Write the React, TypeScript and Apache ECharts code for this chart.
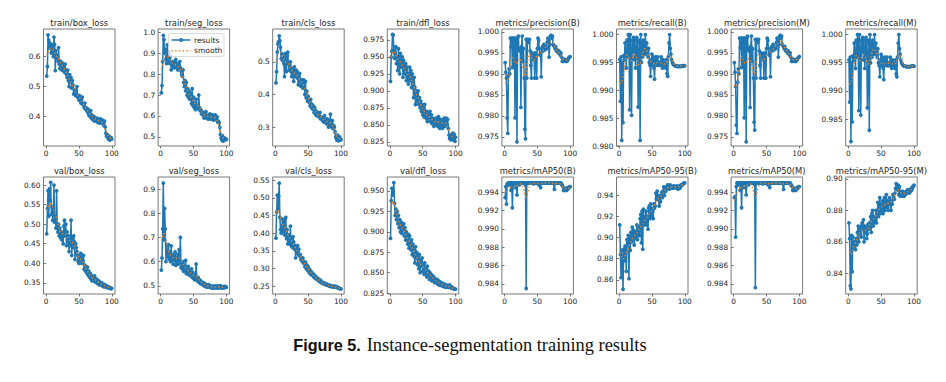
import React, { useEffect, useRef } from 'react';
import * as echarts from 'echarts';

// ---------- data ----------
const epochs: number[] = Array.from({ length: 100 }, (_, i) => i + 1);

const titles = [
  'train/box_loss', 'train/seg_loss', 'train/cls_loss', 'train/dfl_loss',
  'metrics/precision(B)', 'metrics/recall(B)', 'metrics/precision(M)', 'metrics/recall(M)',
  'val/box_loss', 'val/seg_loss', 'val/cls_loss', 'val/dfl_loss',
  'metrics/mAP50(B)', 'metrics/mAP50-95(B)', 'metrics/mAP50(M)', 'metrics/mAP50-95(M)',
];

const trainBoxLoss = [
  0.535, 0.567, 0.672, 0.655, 0.628, 0.645, 0.632, 0.612, 0.640, 0.618,
  0.600, 0.665, 0.640, 0.553, 0.620, 0.595, 0.605, 0.585, 0.630, 0.575,
  0.560, 0.585, 0.575, 0.555, 0.578, 0.568, 0.560, 0.548, 0.575, 0.555,
  0.540, 0.530, 0.555, 0.520, 0.500, 0.540, 0.515, 0.530, 0.495, 0.520,
  0.505, 0.475, 0.490, 0.480, 0.470, 0.478, 0.500, 0.465, 0.470, 0.455,
  0.470, 0.460, 0.445, 0.455, 0.465, 0.440, 0.440, 0.430, 0.445, 0.425,
  0.430, 0.420, 0.415, 0.425, 0.405, 0.410, 0.400, 0.420, 0.395, 0.405,
  0.390, 0.395, 0.400, 0.385, 0.395, 0.390, 0.385, 0.395, 0.380, 0.390,
  0.388, 0.378, 0.392, 0.385, 0.380, 0.388, 0.375, 0.370, 0.385, 0.365,
  0.345, 0.335, 0.340, 0.330, 0.325, 0.335, 0.322, 0.328, 0.330, 0.325,
];
const trainSegLoss = [
  0.710, 0.745, 0.860, 0.985, 0.965, 0.900, 0.920, 0.870, 0.850, 0.940,
  0.880, 0.860, 0.905, 0.850, 0.890, 0.820, 0.850, 0.835, 0.860, 0.845,
  0.830, 0.855, 0.870, 0.835, 0.850, 0.820, 0.830, 0.840, 0.860, 0.830,
  0.815, 0.800, 0.790, 0.820, 0.760, 0.740, 0.770, 0.720, 0.760, 0.700,
  0.730, 0.690, 0.720, 0.680, 0.710, 0.690, 0.660, 0.730, 0.650, 0.690,
  0.640, 0.660, 0.630, 0.680, 0.640, 0.650, 0.635, 0.700, 0.640, 0.625,
  0.630, 0.610, 0.620, 0.605, 0.615, 0.590, 0.605, 0.600, 0.620, 0.590,
  0.600, 0.585, 0.605, 0.595, 0.610, 0.585, 0.600, 0.590, 0.605, 0.580,
  0.600, 0.595, 0.605, 0.590, 0.580, 0.595, 0.570, 0.575, 0.565, 0.545,
  0.510, 0.495, 0.485, 0.505, 0.480, 0.490, 0.495, 0.485, 0.490, 0.488,
];
const trainClsLoss = [
  0.436, 0.470, 0.530, 0.555, 0.562, 0.580, 0.565, 0.545, 0.510, 0.525,
  0.505, 0.515, 0.495, 0.455, 0.525, 0.500, 0.470, 0.520, 0.530, 0.495,
  0.475, 0.490, 0.500, 0.470, 0.455, 0.480, 0.470, 0.440, 0.485, 0.465,
  0.455, 0.475, 0.470, 0.450, 0.430, 0.455, 0.465, 0.440, 0.425, 0.445,
  0.440, 0.420, 0.445, 0.440, 0.400, 0.440, 0.390, 0.410, 0.380, 0.395,
  0.380, 0.375, 0.365, 0.385, 0.360, 0.370, 0.355, 0.365, 0.345, 0.360,
  0.340, 0.350, 0.335, 0.345, 0.335, 0.340, 0.330, 0.345, 0.325, 0.330,
  0.330, 0.320, 0.325, 0.315, 0.335, 0.320, 0.318, 0.310, 0.325, 0.315,
  0.300, 0.320, 0.310, 0.340, 0.305, 0.300, 0.320, 0.295, 0.305, 0.300,
  0.285, 0.270, 0.265, 0.260, 0.275, 0.258, 0.265, 0.270, 0.260, 0.262,
];
const trainDflLoss = [
  0.914, 0.950, 0.958, 0.983, 0.982, 0.960, 0.948, 0.955, 0.965, 0.940,
  0.950, 0.930, 0.962, 0.945, 0.925, 0.955, 0.945, 0.935, 0.950, 0.920,
  0.945, 0.930, 0.925, 0.940, 0.915, 0.935, 0.920, 0.910, 0.925, 0.935,
  0.915, 0.930, 0.905, 0.925, 0.915, 0.890, 0.920, 0.905, 0.880, 0.900,
  0.895, 0.885, 0.900, 0.880, 0.890, 0.875, 0.885, 0.870, 0.880, 0.865,
  0.875, 0.862, 0.880, 0.868, 0.860, 0.870, 0.855, 0.868, 0.860, 0.862,
  0.870, 0.855, 0.865, 0.852, 0.860, 0.855, 0.848, 0.858, 0.852, 0.860,
  0.850, 0.858, 0.848, 0.862, 0.855, 0.845, 0.858, 0.850, 0.855, 0.845,
  0.858, 0.850, 0.860, 0.848, 0.855, 0.860, 0.850, 0.858, 0.845, 0.835,
  0.830, 0.835, 0.828, 0.836, 0.830, 0.838, 0.828, 0.836, 0.826, 0.832,
];
const precisionB = [
  0.9927, 0.9904, 0.9890, 0.9795, 0.9758, 0.9895, 0.9912, 0.9900, 0.9985, 0.9965,
  0.9985, 0.9915, 0.9985, 0.9920, 0.9985, 0.9795, 0.9985, 0.9980, 0.9738, 0.9985,
  0.9990, 0.9960, 0.9955, 0.9960, 0.9820, 0.9965, 0.9990, 0.9930, 0.9960, 0.9890,
  0.9768, 0.9745, 0.9982, 0.9890, 0.9982, 0.9980, 0.9975, 0.9982, 0.9955, 0.9920,
  0.9890, 0.9950, 0.9935, 0.9945, 0.9940, 0.9890, 0.9950, 0.9945, 0.9890, 0.9960,
  0.9985, 0.9980, 0.9960, 0.9945, 0.9950, 0.9893, 0.9960, 0.9965, 0.9955, 0.9970,
  0.9960, 0.9958, 0.9965, 0.9960, 0.9975, 0.9985, 0.9980, 0.9940, 0.9970, 0.9990,
  0.9992, 0.9985, 0.9990, 0.9970, 0.9968, 0.9965, 0.9960, 0.9965, 0.9955, 0.9958,
  0.9955, 0.9950, 0.9955, 0.9948, 0.9945, 0.9950, 0.9940, 0.9930, 0.9932, 0.9930,
  0.9935, 0.9932, 0.9930, 0.9934, 0.9930, 0.9932, 0.9935, 0.9938, 0.9940, 0.9941,
];
const recallB = [
  0.9955, 0.9880, 0.9960, 0.9810, 0.9950, 0.9842, 0.9962, 0.9955, 0.9985, 0.9965,
  0.9940, 0.9990, 0.9960, 1.0000, 0.9990, 0.9865, 1.0000, 0.9960, 0.9855, 0.9990,
  0.9970, 0.9995, 0.9955, 0.9990, 0.9940, 0.9960, 0.9995, 0.9985, 0.9870, 0.9960,
  0.9990, 0.9810, 1.0000, 0.9950, 0.9985, 0.9960, 0.9990, 0.9975, 0.9965, 1.0000,
  0.9970, 0.9985, 0.9965, 0.9960, 0.9975, 0.9950, 0.9945, 0.9925, 0.9955, 0.9965,
  0.9945, 0.9960, 0.9940, 0.9920, 0.9955, 0.9960, 0.9950, 0.9945, 0.9960, 0.9945,
  0.9950, 0.9945, 0.9948, 0.9960, 0.9945, 0.9940, 0.9955, 0.9950, 0.9945, 0.9948,
  0.9940, 0.9955, 0.9930, 0.9925, 0.9960, 0.9985, 1.0000, 0.9975, 0.9965, 0.9955,
  0.9950, 0.9948, 0.9946, 0.9945, 0.9944, 0.9944, 0.9944, 0.9943, 0.9943, 0.9943,
  0.9943, 0.9943, 0.9943, 0.9943, 0.9943, 0.9944, 0.9944, 0.9944, 0.9944, 0.9944,
];
const precisionM = [
  0.9927, 0.9904, 0.9870, 0.9778, 0.9758, 0.9880, 0.9912, 0.9900, 0.9985, 0.9962,
  0.9985, 0.9915, 0.9985, 0.9920, 0.9985, 0.9795, 0.9985, 0.9980, 0.9738, 0.9985,
  0.9990, 0.9960, 0.9955, 0.9960, 0.9820, 0.9965, 0.9990, 0.9930, 0.9960, 0.9890,
  0.9785, 0.9766, 0.9982, 0.9890, 0.9982, 0.9980, 0.9975, 0.9982, 0.9955, 0.9920,
  0.9890, 0.9950, 0.9935, 0.9945, 0.9940, 0.9890, 0.9950, 0.9945, 0.9890, 0.9960,
  0.9985, 0.9980, 0.9960, 0.9945, 0.9950, 0.9893, 0.9960, 0.9965, 0.9955, 0.9970,
  0.9960, 0.9958, 0.9965, 0.9960, 0.9975, 0.9985, 0.9980, 0.9940, 0.9970, 0.9990,
  0.9992, 0.9985, 0.9990, 0.9970, 0.9968, 0.9965, 0.9960, 0.9965, 0.9955, 0.9958,
  0.9955, 0.9950, 0.9955, 0.9948, 0.9945, 0.9950, 0.9940, 0.9930, 0.9932, 0.9930,
  0.9935, 0.9932, 0.9930, 0.9934, 0.9930, 0.9932, 0.9935, 0.9938, 0.9940, 0.9941,
];
const recallM = [
  0.9955, 0.9880, 0.9960, 0.9810, 0.9950, 0.9845, 0.9962, 0.9955, 0.9985, 0.9965,
  0.9940, 0.9990, 0.9960, 1.0000, 0.9990, 0.9865, 1.0000, 0.9960, 0.9857, 0.9990,
  0.9970, 0.9995, 0.9955, 0.9990, 0.9940, 0.9960, 0.9995, 0.9985, 0.9870, 0.9960,
  0.9990, 0.9830, 1.0000, 0.9950, 0.9985, 0.9960, 0.9990, 0.9975, 0.9965, 1.0000,
  0.9970, 0.9985, 0.9965, 0.9960, 0.9975, 0.9950, 0.9945, 0.9925, 0.9955, 0.9965,
  0.9945, 0.9960, 0.9940, 0.9920, 0.9955, 0.9960, 0.9950, 0.9945, 0.9960, 0.9945,
  0.9950, 0.9945, 0.9948, 0.9960, 0.9945, 0.9940, 0.9955, 0.9950, 0.9945, 0.9948,
  0.9940, 0.9955, 0.9930, 0.9925, 0.9960, 0.9985, 1.0000, 0.9975, 0.9965, 0.9955,
  0.9950, 0.9948, 0.9946, 0.9945, 0.9944, 0.9944, 0.9944, 0.9943, 0.9943, 0.9943,
  0.9943, 0.9943, 0.9943, 0.9943, 0.9943, 0.9944, 0.9944, 0.9944, 0.9944, 0.9944,
];
const valBoxLoss = [
  0.475, 0.540, 0.585, 0.520, 0.590, 0.560, 0.607, 0.525, 0.545, 0.510,
  0.530, 0.600, 0.505, 0.520, 0.490, 0.585, 0.495, 0.480, 0.500, 0.470,
  0.490, 0.465, 0.480, 0.460, 0.470, 0.450, 0.495, 0.510, 0.470, 0.500,
  0.445, 0.480, 0.455, 0.470, 0.430, 0.460, 0.445, 0.510, 0.420, 0.465,
  0.440, 0.470, 0.455, 0.410, 0.450, 0.440, 0.430, 0.420, 0.405, 0.400,
  0.420, 0.410, 0.425, 0.400, 0.415, 0.405, 0.420, 0.385, 0.395, 0.380,
  0.385, 0.375, 0.390, 0.370, 0.380, 0.365, 0.375, 0.360, 0.370, 0.355,
  0.365, 0.360, 0.355, 0.368, 0.352, 0.360, 0.350, 0.358, 0.348, 0.355,
  0.345, 0.352, 0.348, 0.345, 0.350, 0.342, 0.345, 0.340, 0.346, 0.342,
  0.340, 0.343, 0.338, 0.340, 0.337, 0.339, 0.336, 0.337, 0.335, 0.336,
];
const valSegLoss = [
  0.565, 0.615, 0.735, 0.925, 0.690, 0.820, 0.735, 0.600, 0.670, 0.645,
  0.620, 0.670, 0.610, 0.640, 0.600, 0.665, 0.610, 0.630, 0.590, 0.620,
  0.605, 0.640, 0.585, 0.615, 0.600, 0.630, 0.590, 0.650, 0.605, 0.700,
  0.575, 0.595, 0.570, 0.600, 0.560, 0.585, 0.565, 0.605, 0.550, 0.575,
  0.560, 0.580, 0.545, 0.565, 0.550, 0.540, 0.570, 0.535, 0.555, 0.530,
  0.545, 0.525, 0.540, 0.590, 0.530, 0.520, 0.535, 0.515, 0.525, 0.510,
  0.520, 0.508, 0.515, 0.505, 0.512, 0.500, 0.510, 0.498, 0.505, 0.495,
  0.502, 0.497, 0.505, 0.495, 0.500, 0.493, 0.498, 0.490, 0.497, 0.492,
  0.498, 0.490, 0.495, 0.500, 0.492, 0.496, 0.490, 0.500, 0.494, 0.492,
  0.500, 0.492, 0.497, 0.490, 0.495, 0.491, 0.497, 0.493, 0.496, 0.494,
];
const valClsLoss = [
  0.386, 0.460, 0.508, 0.470, 0.505, 0.542, 0.445, 0.410, 0.400, 0.420,
  0.440, 0.405, 0.435, 0.395, 0.440, 0.445, 0.385, 0.410, 0.370, 0.395,
  0.380, 0.370, 0.420, 0.365, 0.385, 0.360, 0.390, 0.375, 0.355, 0.365,
  0.330, 0.360, 0.345, 0.365, 0.340, 0.355, 0.335, 0.340, 0.325, 0.330,
  0.320, 0.330, 0.315, 0.320, 0.305, 0.318, 0.300, 0.310, 0.295, 0.305,
  0.290, 0.298, 0.285, 0.292, 0.282, 0.288, 0.280, 0.284, 0.275, 0.280,
  0.272, 0.276, 0.270, 0.268, 0.272, 0.265, 0.268, 0.262, 0.266, 0.260,
  0.262, 0.258, 0.260, 0.256, 0.258, 0.255, 0.257, 0.253, 0.255, 0.252,
  0.253, 0.250, 0.252, 0.249, 0.251, 0.248, 0.250, 0.247, 0.249, 0.248,
  0.250, 0.247, 0.248, 0.246, 0.247, 0.245, 0.244, 0.243, 0.243, 0.242,
];
const valDflLoss = [
  0.892, 0.938, 0.953, 0.945, 0.950, 0.960, 0.935, 0.920, 0.928, 0.915,
  0.925, 0.910, 0.920, 0.905, 0.915, 0.900, 0.912, 0.898, 0.908, 0.902,
  0.910, 0.895, 0.905, 0.890, 0.900, 0.892, 0.885, 0.897, 0.880, 0.895,
  0.888, 0.878, 0.890, 0.872, 0.885, 0.880, 0.870, 0.862, 0.882, 0.868,
  0.875, 0.860, 0.870, 0.855, 0.872, 0.850, 0.865, 0.858, 0.868, 0.852,
  0.860, 0.848, 0.862, 0.850, 0.855, 0.845, 0.858, 0.848, 0.852, 0.842,
  0.850, 0.845, 0.848, 0.840, 0.846, 0.842, 0.845, 0.838, 0.842, 0.840,
  0.838, 0.842, 0.836, 0.840, 0.835, 0.839, 0.836, 0.838, 0.834, 0.837,
  0.835, 0.833, 0.836, 0.834, 0.832, 0.835, 0.833, 0.834, 0.832, 0.833,
  0.835, 0.832, 0.833, 0.831, 0.832, 0.831, 0.831, 0.830, 0.830, 0.830,
];
const mAP50B = [
  0.9934, 0.9946, 0.9927, 0.9949, 0.9948, 0.9950, 0.9948, 0.9950, 0.9950, 0.9942,
  0.9950, 0.9923, 0.9950, 0.9945, 0.9950, 0.9950, 0.9950, 0.9945, 0.9937, 0.9950,
  0.9950, 0.9950, 0.9948, 0.9950, 0.9950, 0.9950, 0.9950, 0.9950, 0.9950, 0.9950,
  0.9950, 0.9948, 0.9835, 0.9950, 0.9950, 0.9950, 0.9950, 0.9950, 0.9950, 0.9950,
  0.9950, 0.9950, 0.9950, 0.9949, 0.9950, 0.9950, 0.9950, 0.9950, 0.9950, 0.9950,
  0.9950, 0.9948, 0.9950, 0.9950, 0.9945, 0.9950, 0.9950, 0.9950, 0.9950, 0.9950,
  0.9950, 0.9950, 0.9950, 0.9950, 0.9950, 0.9950, 0.9950, 0.9950, 0.9950, 0.9950,
  0.9950, 0.9950, 0.9950, 0.9950, 0.9950, 0.9943, 0.9950, 0.9950, 0.9950, 0.9950,
  0.9950, 0.9950, 0.9950, 0.9950, 0.9950, 0.9950, 0.9948, 0.9948, 0.9946, 0.9942,
  0.9942, 0.9944, 0.9942, 0.9943, 0.9942, 0.9945, 0.9944, 0.9945, 0.9946, 0.9946,
];
const mAP5095B = [
  0.912, 0.884, 0.862, 0.888, 0.878, 0.851, 0.889, 0.878, 0.892, 0.886,
  0.868, 0.898, 0.895, 0.902, 0.861, 0.900, 0.888, 0.905, 0.896, 0.910,
  0.898, 0.907, 0.893, 0.900, 0.905, 0.900, 0.912, 0.898, 0.905, 0.910,
  0.902, 0.918, 0.922, 0.895, 0.925, 0.889, 0.927, 0.915, 0.912, 0.920,
  0.925, 0.912, 0.920, 0.908, 0.928, 0.930, 0.918, 0.932, 0.920, 0.928,
  0.925, 0.918, 0.932, 0.928, 0.930, 0.942, 0.937, 0.944, 0.936, 0.940,
  0.930, 0.938, 0.934, 0.940, 0.943, 0.938, 0.944, 0.948, 0.940, 0.946,
  0.944, 0.948, 0.946, 0.950, 0.947, 0.949, 0.946, 0.950, 0.948, 0.949,
  0.947, 0.948, 0.947, 0.949, 0.948, 0.948, 0.947, 0.949, 0.948, 0.946,
  0.948, 0.949, 0.947, 0.950, 0.949, 0.950, 0.951, 0.951, 0.952, 0.952,
];
const mAP50M = [
  0.9934, 0.9935, 0.9891, 0.9946, 0.9950, 0.9948, 0.9950, 0.9950, 0.9950, 0.9942,
  0.9950, 0.9923, 0.9950, 0.9945, 0.9950, 0.9950, 0.9950, 0.9945, 0.9937, 0.9950,
  0.9950, 0.9950, 0.9948, 0.9950, 0.9950, 0.9950, 0.9950, 0.9950, 0.9950, 0.9950,
  0.9950, 0.9948, 0.9836, 0.9950, 0.9950, 0.9950, 0.9950, 0.9950, 0.9950, 0.9950,
  0.9950, 0.9950, 0.9950, 0.9949, 0.9950, 0.9950, 0.9950, 0.9950, 0.9950, 0.9950,
  0.9950, 0.9948, 0.9950, 0.9950, 0.9945, 0.9950, 0.9950, 0.9950, 0.9950, 0.9950,
  0.9950, 0.9950, 0.9950, 0.9950, 0.9950, 0.9950, 0.9950, 0.9950, 0.9950, 0.9950,
  0.9950, 0.9950, 0.9950, 0.9950, 0.9950, 0.9943, 0.9950, 0.9950, 0.9950, 0.9950,
  0.9950, 0.9950, 0.9950, 0.9950, 0.9950, 0.9950, 0.9948, 0.9948, 0.9946, 0.9942,
  0.9942, 0.9944, 0.9942, 0.9943, 0.9942, 0.9945, 0.9944, 0.9945, 0.9946, 0.9946,
];
const mAP5095M = [
  0.872, 0.862, 0.832, 0.830, 0.864, 0.841, 0.863, 0.856, 0.858, 0.860,
  0.855, 0.862, 0.858, 0.866, 0.870, 0.860, 0.868, 0.865, 0.870, 0.863,
  0.872, 0.868, 0.874, 0.860, 0.870, 0.866, 0.869, 0.862, 0.865, 0.871,
  0.868, 0.872, 0.870, 0.876, 0.866, 0.878, 0.880, 0.870, 0.876, 0.872,
  0.874, 0.880, 0.872, 0.878, 0.885, 0.876, 0.882, 0.888, 0.878, 0.884,
  0.880, 0.886, 0.878, 0.882, 0.888, 0.880, 0.885, 0.890, 0.882, 0.886,
  0.880, 0.884, 0.888, 0.885, 0.880, 0.886, 0.884, 0.890, 0.888, 0.887,
  0.891, 0.894, 0.897, 0.895, 0.893, 0.896, 0.890, 0.895, 0.889, 0.892,
  0.890, 0.889, 0.892, 0.890, 0.889, 0.891, 0.890, 0.892, 0.891, 0.893,
  0.892, 0.893, 0.891, 0.893, 0.892, 0.894, 0.893, 0.895, 0.895, 0.896,
];

// tick labels
const xTickLabels = ['0', '50', '100'];
const yTicksTrainBox = ['0.4', '0.5', '0.6'];
const yTicksTrainSeg = ['0.5', '0.6', '0.7', '0.8', '0.9', '1.0'];
const yTicksTrainCls = ['0.3', '0.4', '0.5'];
const yTicksTrainDfl = ['0.825', '0.850', '0.875', '0.900', '0.925', '0.950', '0.975'];
const yTicksPrecB = ['0.975', '0.980', '0.985', '0.990', '0.995', '1.000'];
const yTicksRecB = ['0.980', '0.985', '0.990', '0.995', '1.000'];
const yTicksPrecM = ['0.975', '0.980', '0.985', '0.990', '0.995', '1.000'];
const yTicksRecM = ['0.985', '0.990', '0.995', '1.000'];
const yTicksValBox = ['0.35', '0.40', '0.45', '0.50', '0.55', '0.60'];
const yTicksValSeg = ['0.5', '0.6', '0.7', '0.8', '0.9'];
const yTicksValCls = ['0.25', '0.30', '0.35', '0.40', '0.45', '0.50', '0.55'];
const yTicksValDfl = ['0.825', '0.850', '0.875', '0.900', '0.925', '0.950'];
const yTicksMap50B = ['0.984', '0.986', '0.988', '0.990', '0.992', '0.994'];
const yTicksMap5095B = ['0.86', '0.88', '0.90', '0.92', '0.94'];
const yTicksMap50M = ['0.984', '0.986', '0.988', '0.990', '0.992', '0.994'];
const yTicksMap5095M = ['0.84', '0.86', '0.88', '0.90'];

// axis extents (matplotlib auto-margins)
const xRange = [-3.95, 104.95];
const yRanges = [
  [0.302, 0.692], [0.456, 1.016], [0.242, 0.601], [0.819, 0.991],
  [0.9728, 1.0007], [0.9800, 1.0010], [0.9728, 1.0007], [0.9802, 1.0010],
  [0.3215, 0.6206], [0.466, 0.950], [0.2275, 0.5595], [0.824, 0.967],
  [0.9829, 0.99565], [0.8465, 0.9575], [0.9829, 0.99565], [0.8268, 0.9012],
];

const seriesData = [
  trainBoxLoss, trainSegLoss, trainClsLoss, trainDflLoss,
  precisionB, recallB, precisionM, recallM,
  valBoxLoss, valSegLoss, valClsLoss, valDflLoss,
  mAP50B, mAP5095B, mAP50M, mAP5095M,
];
const yTicks = [
  yTicksTrainBox, yTicksTrainSeg, yTicksTrainCls, yTicksTrainDfl,
  yTicksPrecB, yTicksRecB, yTicksPrecM, yTicksRecM,
  yTicksValBox, yTicksValSeg, yTicksValCls, yTicksValDfl,
  yTicksMap50B, yTicksMap5095B, yTicksMap50M, yTicksMap5095M,
];

// ---------- helpers ----------
function gaussianSmooth(y: number[], sigma = 3): number[] {
  const r = Math.floor(4 * sigma + 0.5);
  const w: number[] = [];
  let s = 0;
  for (let k = -r; k <= r; k++) {
    const v = Math.exp(-0.5 * (k * k) / (sigma * sigma));
    w.push(v);
    s += v;
  }
  const n = y.length;
  const idx = (i: number) => {
    while (i < 0 || i >= n) {
      if (i < 0) i = -i - 1;
      else i = 2 * n - i - 1;
    }
    return i;
  };
  return y.map((_, i) => {
    let acc = 0;
    for (let k = -r; k <= r; k++) acc += w[k + r] * y[idx(i + k)];
    return acc / s;
  });
}

const BLUE = '#1f77b4';
const ORANGE = '#ff7f0e';
const INK = '#262626';
const FRAME = '#555555';
const FONT = 'DejaVu Sans';

const colLeft0 = 43.5;
const colStep = 114.6;
const gridW = 71.5;
const gridH = 117;
const rowTops = [29, 177];

function buildOption() {
  const grids: any[] = [];
  const xAxes: any[] = [];
  const yAxes: any[] = [];
  const series: any[] = [];
  const graphics: any[] = [];

  seriesData.forEach((vals, i) => {
    const left = colLeft0 + colStep * (i % 8);
    const top = rowTops[Math.floor(i / 8)];
    grids.push({
      left, top, width: gridW, height: gridH, show: true,
      borderColor: FRAME, borderWidth: 0.8, backgroundColor: 'transparent',
      containLabel: false,
    });
    const xVals = xTickLabels.map(Number);
    xAxes.push({
      type: 'value', gridIndex: i, min: xRange[0], max: xRange[1],
      axisLine: { show: false }, splitLine: { show: false },
      axisTick: { show: true, length: 2.5, lineStyle: { color: FRAME, width: 0.8 }, customValues: xVals },
      axisLabel: {
        customValues: xVals, fontSize: 7.4, color: INK, fontFamily: FONT, margin: 3.5,
        formatter: (v: number) => {
          const k = xVals.findIndex((t) => Math.abs(t - v) < 1e-9);
          return k >= 0 ? xTickLabels[k] : '';
        },
      },
    });
    const labels = yTicks[i];
    const yVals = labels.map(Number);
    yAxes.push({
      type: 'value', gridIndex: i, min: yRanges[i][0], max: yRanges[i][1],
      axisLine: { show: false }, splitLine: { show: false },
      axisTick: { show: true, length: 2.5, lineStyle: { color: FRAME, width: 0.8 }, customValues: yVals },
      axisLabel: {
        customValues: yVals, fontSize: 7.4, color: INK, fontFamily: FONT, margin: 3,
        formatter: (v: number) => {
          const k = yVals.findIndex((t) => Math.abs(t - v) < 1e-9);
          return k >= 0 ? labels[k] : '';
        },
      },
    });
    const smooth = gaussianSmooth(vals, 3);
    series.push({
      type: 'line', name: 'results', xAxisIndex: i, yAxisIndex: i,
      data: epochs.map((e, k) => [e, vals[k]]),
      symbol: 'circle', symbolSize: 3.8, showSymbol: true, showAllSymbol: true,
      lineStyle: { color: BLUE, width: 1.5 }, itemStyle: { color: BLUE, borderWidth: 0 },
      silent: true, z: 2,
    });
    series.push({
      type: 'line', name: 'smooth', xAxisIndex: i, yAxisIndex: i,
      data: epochs.map((e, k) => [e, smooth[k]]),
      symbol: 'none', showSymbol: false,
      lineStyle: { color: ORANGE, width: 1.4, type: [1.4, 2.3], cap: 'butt' },
      silent: true, z: 3,
    });
    graphics.push({
      type: 'text', x: left + gridW / 2, y: top - 6.3, z: 100,
      style: {
        text: titles[i], font: `8.4px "${FONT}"`, fill: INK,
        align: 'center', verticalAlign: 'middle', textAlign: 'center', textVerticalAlign: 'middle',
      },
    });
  });

  // legend (matplotlib style) inside train/seg_loss panel
  const lgLeft = colLeft0 + colStep * 1 + 10.4;
  const lgTop = rowTops[0] + 4.5;
  graphics.push({
    type: 'rect', z: 100,
    shape: { x: lgLeft, y: lgTop, width: 55.5, height: 23, r: 2 },
    style: { fill: 'rgba(255,255,255,0.8)', stroke: '#cccccc', lineWidth: 0.7 },
  });
  graphics.push({
    type: 'line', z: 101,
    shape: { x1: lgLeft + 3, y1: lgTop + 6.5, x2: lgLeft + 22, y2: lgTop + 6.5 },
    style: { stroke: BLUE, lineWidth: 1.5 },
  });
  graphics.push({
    type: 'circle', z: 102,
    shape: { cx: lgLeft + 12.5, cy: lgTop + 6.5, r: 1.9 },
    style: { fill: BLUE },
  });
  graphics.push({
    type: 'line', z: 101,
    shape: { x1: lgLeft + 3, y1: lgTop + 17.2, x2: lgLeft + 22, y2: lgTop + 17.2 },
    style: { stroke: ORANGE, lineWidth: 1.4, lineDash: [1.4, 2.3] },
  });
  graphics.push({
    type: 'text', x: lgLeft + 25.5, y: lgTop + 6.5, z: 102,
    style: { text: 'results', font: `7.6px "${FONT}"`, fill: INK, verticalAlign: 'middle', textVerticalAlign: 'middle' },
  });
  graphics.push({
    type: 'text', x: lgLeft + 25.5, y: lgTop + 17.2, z: 102,
    style: { text: 'smooth', font: `7.6px "${FONT}"`, fill: INK, verticalAlign: 'middle', textVerticalAlign: 'middle' },
  });

  // caption
  graphics.push({
    type: 'text', x: 293.3, y: 344.5, z: 100,
    style: { text: 'Figure 5.', font: 'bold 16.2px "Liberation Sans"', fill: '#111111', verticalAlign: 'middle', textVerticalAlign: 'middle' },
  });
  graphics.push({
    type: 'text', x: 366.7, y: 344.5, z: 100,
    style: { text: 'Instance-segmentation training results', font: '18.4px "Liberation Serif"', fill: '#111111', verticalAlign: 'middle', textVerticalAlign: 'middle' },
  });

  return {
    animation: false,
    backgroundColor: '#ffffff',
    grid: grids,
    xAxis: xAxes,
    yAxis: yAxes,
    series,
    graphic: { elements: graphics },
  };
}

export default function App() {
  const ref = useRef<HTMLDivElement>(null);
  useEffect(() => {
    document.body.style.margin = '0';
    if (!ref.current) return;
    const chart = echarts.init(ref.current, undefined, { renderer: 'svg' });
    chart.setOption(buildOption() as any);
    return () => chart.dispose();
  }, []);
  return <div ref={ref} style={{ width: 946, height: 382 }} />;
}
